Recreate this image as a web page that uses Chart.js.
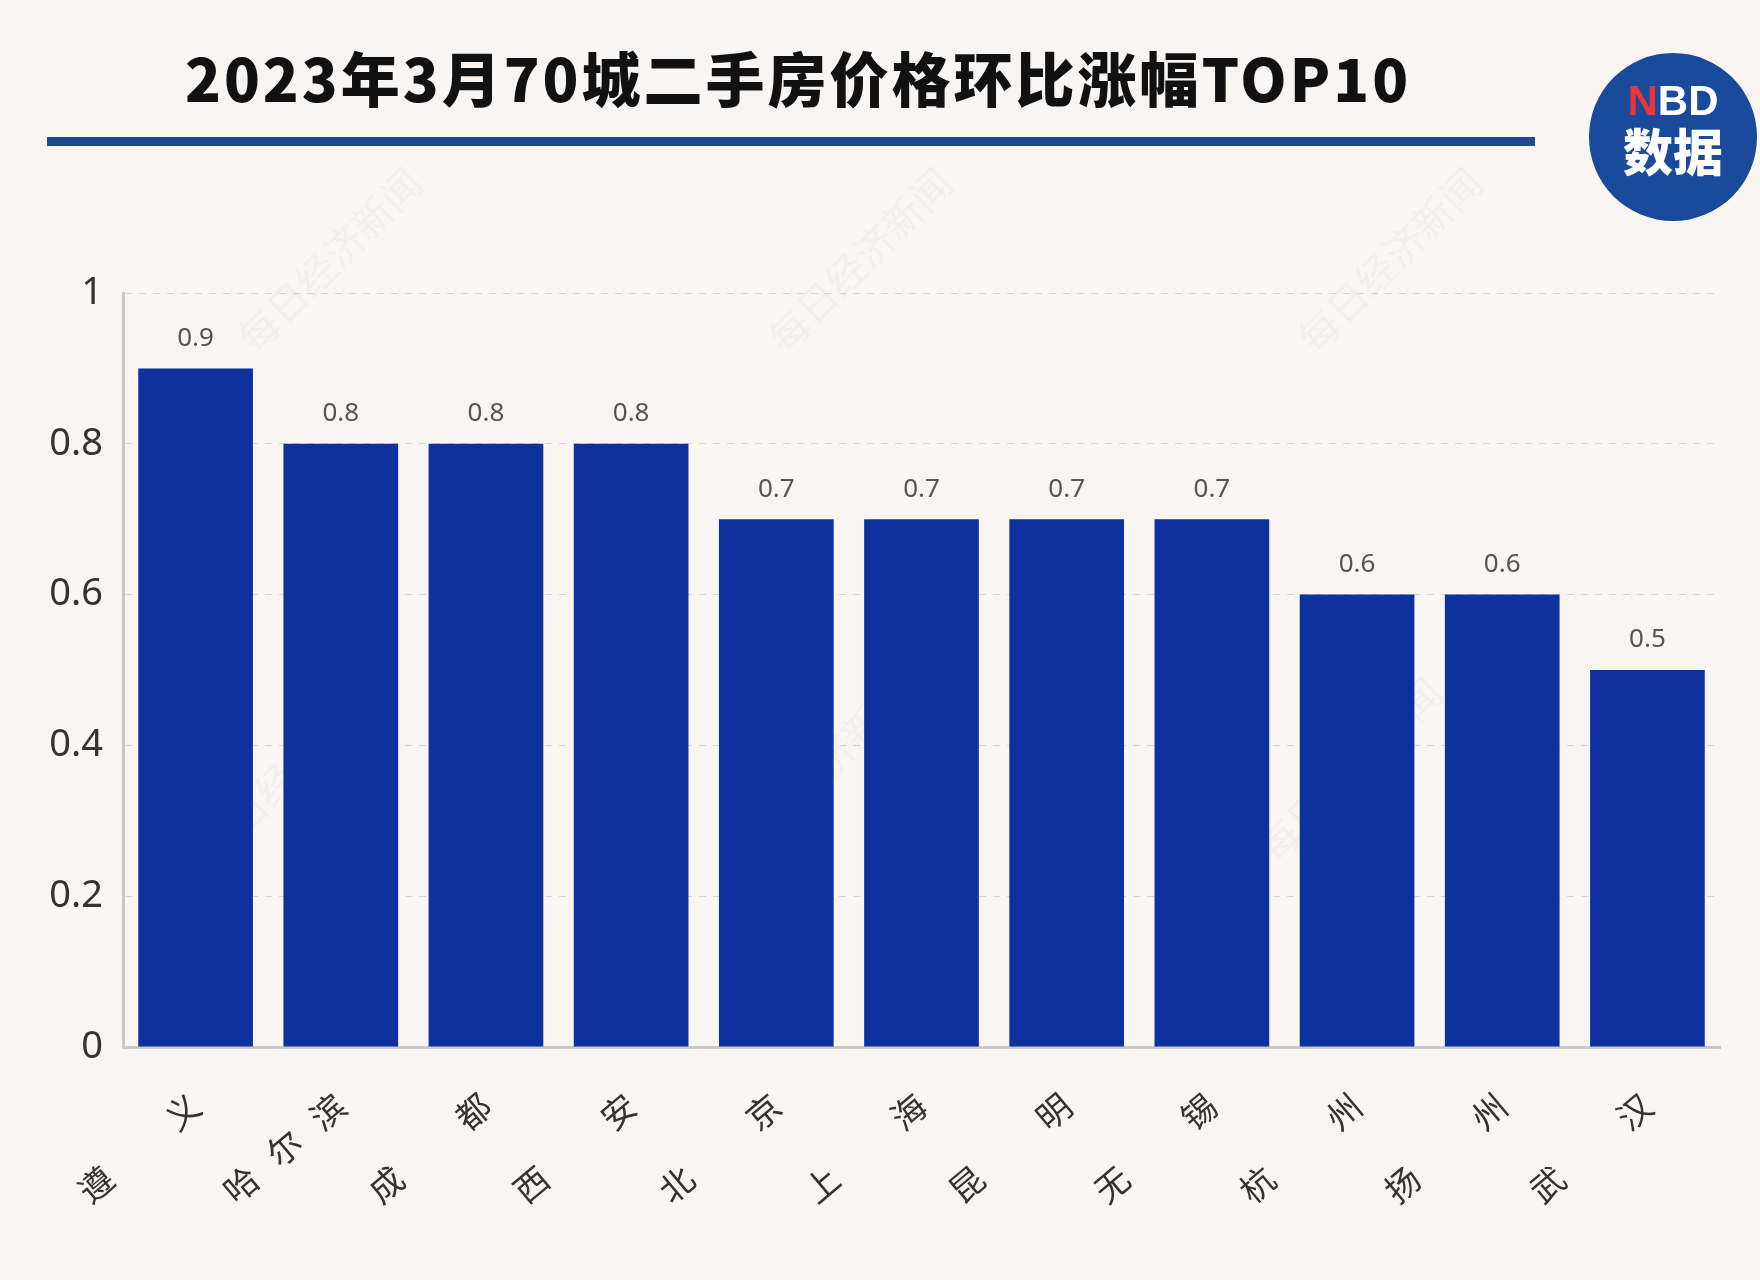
<!DOCTYPE html>
<html>
<head>
<meta charset="utf-8">
<script src="https://cdn.jsdelivr.net/npm/chart.js@4.4.1/dist/chart.umd.min.js"></script>
<style>
  html, body { margin: 0; padding: 0; background: #f8f5f2; }
  #wrap { position: relative; width: 1760px; height: 1280px; overflow: hidden; }
  #title {
    position: absolute; left: 185px; top: 34px;
    font-family: "Noto Sans CJK SC", "Noto Sans", sans-serif;
    font-weight: 900; font-size: 59px; color: #111; letter-spacing: 3px;
    white-space: nowrap;
  }
  #rule { position: absolute; left: 47px; top: 137px; width: 1488px; height: 9px; background: #1d4a8e; }
  #logo {
    position: absolute; left: 1589px; top: 53px; width: 168px; height: 168px;
    border-radius: 50%; background: #1a4a9c; color: #fff; text-align: center;
    font-family: "Noto Sans CJK SC", sans-serif; font-weight: 900;
  }
  #logo .nbd { position: absolute; left: 0; right: 0; top: 26px; font-size: 42px; line-height: 44px; font-family: "Liberation Sans", Arial, sans-serif; font-weight: bold; }
  #logo .nbd span { color: #e8363a; }
  #logo .sj { position: absolute; left: 0; right: 0; top: 66px; font-size: 50px; line-height: 60px; }
  #chart { position: absolute; left: 0; top: 0; }
</style>
</head>
<body>
<div id="wrap">
  <canvas id="chart" width="1760" height="1280"></canvas>
  <div id="title">2023年3月70城二手房价格环比涨幅TOP10</div>
  <div id="rule"></div>
  <div id="logo"><div class="nbd"><span>N</span>BD</div><div class="sj">数据</div></div>
</div>
<script>
  var cities = ["遵义", "哈尔滨", "成都", "西安", "北京", "上海", "昆明", "无锡", "杭州", "扬州", "武汉"];
  var changes = [0.9, 0.8, 0.8, 0.8, 0.7, 0.7, 0.7, 0.7, 0.6, 0.6, 0.5];
  var yTicks = [0, 0.2, 0.4, 0.6, 0.8, 1];

  // the picture spreads the characters out, two-character names get a full-width gap
  function spaced(name) {
    var chars = name.split("");
    if (chars.length == 2) chars = [chars[0], "\u3000", chars[1]];
    return chars.join("\u2002\u2006");
  }

  var valueLabels = {
    id: "valueLabels",
    afterDatasetsDraw: function(chart) {
      var ctx = chart.ctx;
      var meta = chart.getDatasetMeta(0);
      ctx.save();
      ctx.font = "26px 'Noto Sans', sans-serif";
      ctx.fillStyle = "#555";
      ctx.textAlign = "center";
      ctx.textBaseline = "middle";
      meta.data.forEach(function(bar, i) {
        ctx.fillText(String(changes[i]), bar.x, bar.y - 30);
      });
      ctx.restore();
    }
  };

  var watermark = {
    id: "watermark",
    beforeDatasetsDraw: function(chart) {
      var ctx = chart.ctx;
      var spots = [[330, 260], [860, 260], [1390, 260], [290, 770], [820, 770], [1350, 770]];
      ctx.save();
      ctx.font = "40px 'Noto Sans CJK SC', sans-serif";
      ctx.fillStyle = "rgba(150,150,150,0.07)";
      ctx.textAlign = "center";
      ctx.textBaseline = "middle";
      spots.forEach(function(p) {
        ctx.save();
        ctx.translate(p[0], p[1]);
        ctx.rotate(-Math.PI / 4);
        ctx.fillText("每日经济新闻", 0, 0);
        ctx.restore();
      });
      ctx.restore();
    }
  };

  var chart = new Chart(document.getElementById("chart"), {
    type: "bar",
    data: {
      labels: cities,
      datasets: [{
        data: changes,
        backgroundColor: "#0e319e",
        borderWidth: 0,
        categoryPercentage: 0.79,
        barPercentage: 1
      }]
    },
    options: {
      responsive: false,
      animation: false,
      layout: { padding: { left: 0, top: 293, right: 40, bottom: 0 } },
      plugins: { legend: { display: false }, tooltip: { enabled: false }, title: { display: false } },
      scales: {
        x: {
          grid: { display: false },
          border: { display: true, color: "#c9c9c9", width: 3 },
          ticks: {
            autoSkip: false,
            minRotation: 40,
            maxRotation: 40,
            padding: 30,
            color: "#333",
            font: { family: "'Noto Sans CJK SC', sans-serif", size: 34 },
            callback: function(v, i) { return spaced(cities[i]); }
          },
          afterFit: function(scale) { scale.height = 233; }
        },
        y: {
          min: 0,
          max: 1,
          afterBuildTicks: function(scale) { scale.ticks = yTicks.map(function(v) { return { value: v }; }); },
          grid: { color: "#d6d6d6", lineWidth: 1, drawTicks: false },
          border: { display: true, color: "#c9c9c9", width: 3, dash: [7, 7] },
          ticks: {
            padding: 20,
            color: "#333",
            font: { family: "'Noto Sans', sans-serif", size: 38 },
            callback: function(v) { return String(parseFloat(v.toFixed(1))); }
          },
          afterFit: function(scale) { scale.width = 123; }
        }
      }
    },
    plugins: [watermark, valueLabels]
  });
</script>
</body>
</html>
